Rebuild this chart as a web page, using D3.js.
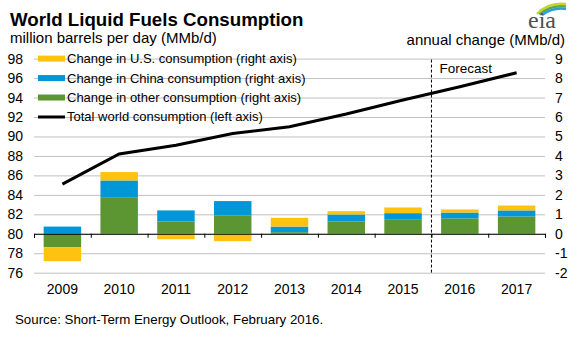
<!DOCTYPE html>
<html>
<head>
<meta charset="utf-8">
<script src="https://cdn.jsdelivr.net/npm/d3@7"></script>
<style>
  body { margin: 0; background: #fff; }
  svg { display: block; font-family: "Liberation Sans", Arial, sans-serif; }
  .grid line { stroke: #c0c0c0; stroke-width: 1; }
  .grid .domain { display: none; }
  .tick text { fill: #000; }
</style>
</head>
<body>
<div id="chart"></div>
<script>
// years on the category axis
const years = ["2009", "2010", "2011", "2012", "2013", "2014", "2015", "2016", "2017"];

// annual change by region, MMb/d (right axis)
const usChange = [-0.72, 0.43, -0.28, -0.38, 0.45, 0.17, 0.29, 0.16, 0.25];
const chinaChange = [0.37, 0.86, 0.57, 0.74, 0.29, 0.36, 0.34, 0.30, 0.31];
const otherChange = [-0.69, 1.88, 0.63, 0.94, 0.08, 0.63, 0.72, 0.79, 0.89];

// total world consumption, MMb/d (left axis)
const worldTotal = [85.1, 88.2, 89.1, 90.3, 91.0, 92.3, 93.75, 95.1, 96.55];

const leftTicks = [76, 78, 80, 82, 84, 86, 88, 90, 92, 94, 96, 98];
const rightTicks = [-2, -1, 0, 1, 2, 3, 4, 5, 6, 7, 8, 9];

const legendItems = [
  { label: "Change in U.S. consumption (right axis)", color: "#ffc20e", kind: "rect" },
  { label: "Change in China consumption (right axis)", color: "#0097d7", kind: "rect" },
  { label: "Change in other consumption (right axis)", color: "#5c9632", kind: "rect" },
  { label: "Total world consumption (left axis)", color: "#000", kind: "line" }
];

const W = 585, H = 347;
const plot = { left: 34, right: 545, top: 58.6, bottom: 272.7 };

const svg = d3.select("#chart").append("svg")
  .attr("width", W).attr("height", H);

// scales
const x = d3.scaleBand()
  .domain(years)
  .range([plot.left, plot.right])
  .paddingInner(0.34)
  .paddingOuter(0.17);
const yLeft = d3.scaleLinear().domain([76, 98]).range([plot.bottom, plot.top]);
const yRight = d3.scaleLinear().domain([-2, 9]).range([plot.bottom, plot.top]);

// horizontal gridlines
svg.append("g")
  .attr("class", "grid")
  .attr("transform", `translate(${plot.left},0)`)
  .call(d3.axisLeft(yLeft).tickValues(leftTicks).tickSize(-(plot.right - plot.left)).tickFormat(""));

// left axis labels
svg.append("g")
  .attr("transform", `translate(${plot.left},0)`)
  .call(d3.axisLeft(yLeft).tickValues(leftTicks).tickSize(0).tickPadding(11))
  .call(g => g.select(".domain").remove())
  .call(g => g.selectAll("text").style("font-size", "14px"));

// right axis labels (plain hyphen for negatives)
svg.append("g")
  .attr("transform", `translate(${plot.right},0)`)
  .call(d3.axisRight(yRight).tickValues(rightTicks).tickSize(0).tickPadding(10).tickFormat(d => String(d)))
  .call(g => g.select(".domain").remove())
  .call(g => g.selectAll("text").style("font-size", "14px"));

// stacked bars, negatives below zero
const rows = years.map((yr, i) => ({ year: yr, other: otherChange[i], china: chinaChange[i], us: usChange[i] }));
const stack = d3.stack()
  .keys(["other", "china", "us"])
  .offset(d3.stackOffsetDiverging);
const colors = { other: "#5c9632", china: "#0097d7", us: "#ffc20e" };

svg.append("g")
  .selectAll("g")
  .data(stack(rows))
  .join("g")
  .attr("fill", d => colors[d.key])
  .selectAll("rect")
  .data(d => d)
  .join("rect")
  .attr("x", d => x(d.data.year))
  .attr("y", d => yRight(Math.max(d[0], d[1])))
  .attr("width", x.bandwidth())
  .attr("height", d => Math.abs(yRight(d[0]) - yRight(d[1])));

// zero line with category ticks
const tickScale = d3.scaleLinear().domain([0, years.length]).range([plot.left, plot.right]);
svg.append("g")
  .attr("transform", `translate(0,${yRight(0)})`)
  .call(d3.axisBottom(tickScale).ticks(years.length).tickSize(4).tickFormat("").tickSizeOuter(4))
  .call(g => g.select(".domain").attr("stroke", "#000"))
  .call(g => g.selectAll(".tick line").attr("stroke", "#000"));

// year labels under the plot
svg.append("g")
  .attr("transform", `translate(0,${plot.bottom})`)
  .call(d3.axisBottom(x).tickSize(0).tickPadding(11))
  .call(g => g.select(".domain").remove())
  .call(g => g.selectAll("text").style("font-size", "14px"));

// forecast divider
const splitX = x("2016") - x.step() * x.paddingInner() / 2;
svg.append("line")
  .attr("x1", splitX).attr("x2", splitX)
  .attr("y1", plot.top + 1).attr("y2", plot.bottom)
  .attr("stroke", "#000")
  .attr("stroke-dasharray", "3,2");
svg.append("text")
  .attr("x", splitX + 8).attr("y", 73)
  .style("font-size", "13.5px")
  .text("Forecast");

// world consumption line
const line = d3.line()
  .x((d, i) => x(years[i]) + x.bandwidth() / 2)
  .y(d => yLeft(d));
svg.append("path")
  .datum(worldTotal)
  .attr("fill", "none")
  .attr("stroke", "#000")
  .attr("stroke-width", 3)
  .attr("d", line);

// legend, one row per gridline from the top
const legend = svg.append("g")
  .selectAll("g")
  .data(legendItems)
  .join("g")
  .attr("transform", (d, i) => `translate(38,${yLeft(98 - 2 * i)})`);
legend.filter(d => d.kind === "rect").append("rect")
  .attr("x", 0).attr("y", -3).attr("width", 27).attr("height", 6)
  .attr("fill", d => d.color);
legend.filter(d => d.kind === "line").append("line")
  .attr("x1", 0).attr("x2", 27)
  .attr("stroke", d => d.color).attr("stroke-width", 3);
legend.append("text")
  .attr("x", 29).attr("y", 4.5)
  .style("font-size", "13px")
  .text(d => d.label);

// titles
svg.append("text")
  .attr("x", 10).attr("y", 26)
  .style("font-size", "18.7px").style("font-weight", "bold")
  .text("World Liquid Fuels Consumption");
svg.append("text")
  .attr("x", 10).attr("y", 43)
  .style("font-size", "15px")
  .text("million barrels per day (MMb/d)");
svg.append("text")
  .attr("x", 565).attr("y", 45)
  .attr("text-anchor", "end")
  .style("font-size", "15px")
  .text("annual change (MMb/d)");

// source note
svg.append("text")
  .attr("x", 15).attr("y", 324)
  .style("font-size", "13.3px")
  .text("Source: Short-Term Energy Outlook, February 2016.");

// eia logo
const logo = svg.append("g");
[["#c9d42b", 0], ["#5bab4b", 2.5], ["#2d9fd8", 5]].forEach(([c, o]) => {
  logo.append("path")
    .attr("d", `M${537 + o},${14 + o * 0.2} Q${548 + o},${2 + o} ${566},${4 + o}`)
    .attr("fill", "none")
    .attr("stroke", c)
    .attr("stroke-width", 2.5);
});
logo.append("text")
  .attr("x", 528).attr("y", 28)
  .style("font-family", "'Liberation Serif', 'DejaVu Serif', serif")
  .style("font-size", "24px")
  .attr("fill", "#505050")
  .text("eia");
</script>
</body>
</html>
